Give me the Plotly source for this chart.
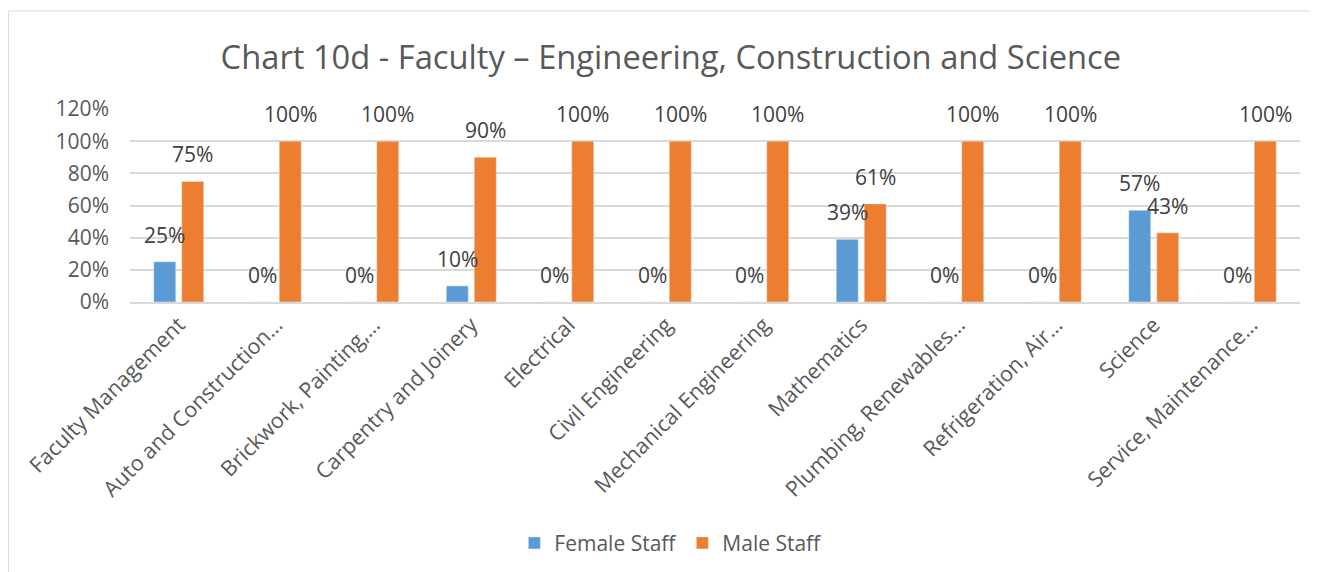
import plotly.graph_objects as go

categories = [
    "Faculty Management",
    "Auto and Construction…",
    "Brickwork, Painting,…",
    "Carpentry and Joinery",
    "Electrical",
    "Civil Engineering",
    "Mechanical Engineering",
    "Mathematics",
    "Plumbing, Renewables…",
    "Refrigeration, Air…",
    "Science",
    "Service, Maintenance…",
]
female = [0.25, 0, 0, 0.10, 0, 0, 0, 0.39, 0, 0, 0.57, 0]
male = [0.75, 1.0, 1.0, 0.90, 1.0, 1.0, 1.0, 0.61, 1.0, 1.0, 0.43, 1.0]

font_name = "Open Sans"
grey = "#595959"
series = [
    ("Female Staff", female, "#5B9BD5", -14),
    ("Male Staff", male, "#ED7D31", 14),
]

fig = go.Figure()
for name, vals, col, dx in series:
    fig.add_trace(go.Bar(x=categories, y=vals, name=name, marker_color=col))
    # data labels sit a little above each bar, like Excel's "outside end"
    for cat, v in zip(categories, vals):
        fig.add_annotation(
            x=cat, y=v, text=f"{v:.0%}", showarrow=False,
            xshift=dx, yshift=11, yanchor="bottom",
            font=dict(size=21, color="#404040"),
        )

fig.update_layout(
    width=1310, height=564,
    margin=dict(l=122, r=18, t=101, b=270, autoexpand=False),
    paper_bgcolor="white", plot_bgcolor="white",
    font=dict(family=font_name, color=grey, size=21),
    title=dict(
        text="Chart 10d - Faculty \u2013 Engineering, Construction and Science",
        x=0.506, xanchor="center", y=0.913, yanchor="middle",
        font=dict(size=32.7, color=grey),
    ),
    barmode="group", bargap=0.426, bargroupgap=0.214,
    legend=dict(
        orientation="h", xref="container", x=0.506, xanchor="center",
        y=-1.25, yanchor="middle",
        font=dict(size=21, color=grey), itemwidth=30,
    ),
)
fig.update_yaxes(
    range=[0, 1.2], dtick=0.2, tickformat=".0%",
    showgrid=True, gridcolor="#D9D9D9", gridwidth=1.5,
    zeroline=False, showline=False, ticks="",
    tickfont=dict(size=21, color=grey), ticklabelstandoff=20,
    automargin=False,
)
fig.update_xaxes(
    tickangle=-45, showline=True, linecolor="#D9D9D9", linewidth=1.5,
    ticks="", tickfont=dict(size=21.5, color=grey), automargin=False,
)
fig.add_shape(
    type="rect", xref="paper", yref="paper",
    x0=-0.1038, x1=1.2, y0=-1.6, y1=1.508,
    line=dict(color="#D9D9D9", width=1), layer="below",
)

fig.write_html("out.html")
